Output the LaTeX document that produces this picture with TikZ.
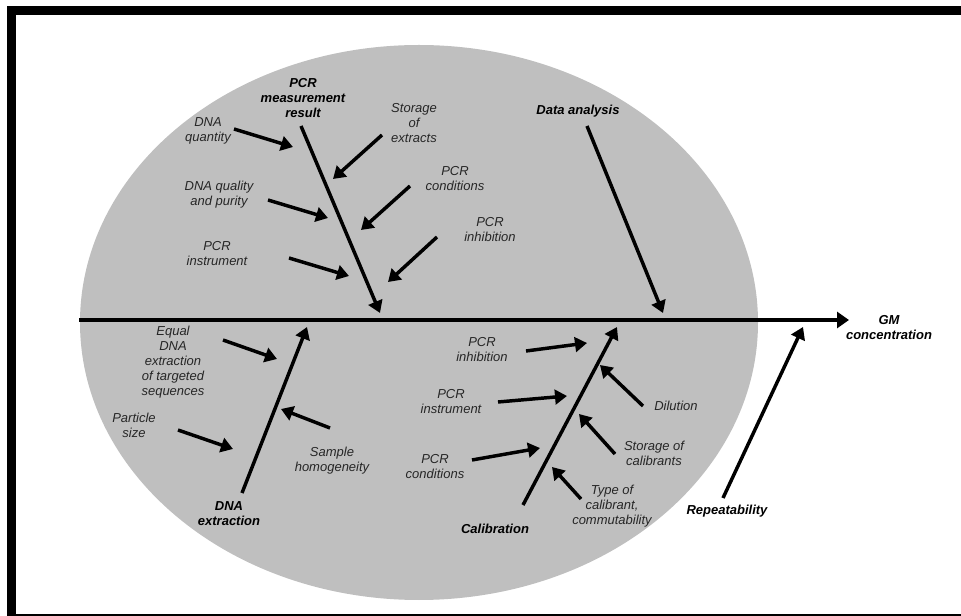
\documentclass[tikz,border=0pt]{standalone}
\usepackage{fontspec}
\setmainfont{Liberation Sans}
\usetikzlibrary{arrows.meta}
\newcommand\myarrow[3]{\coordinate (#1s) at #2; \coordinate (#1e) at #3; \draw[twig] (#1s) -- (#1e);}
\begin{document}
\begin{tikzpicture}[x=0.75pt,y=-0.75pt,
  lbl/.style={font=\fontsize{9.75}{11.25}\selectfont\itshape, align=center, inner sep=0pt, text=black!85},
  blbl/.style={font=\fontsize{9.75}{11.25}\selectfont\bfseries\itshape, align=center, inner sep=0pt, text=black},
  twig/.style={line width=2.6pt, -{Triangle[length=9pt,width=11pt]}},
]
\useasboundingbox (0,0) rectangle (961,616);
% background ellipse
\fill[black!25] (419,322.5) ellipse [x radius=339, y radius=277.5];
% frame
\fill[black] (7,6) rectangle (961,15);
\fill[black] (7,6) rectangle (16,616);
\fill[black] (7,613.5) rectangle (961,616);

% labels
\node[blbl] (pcrm) at (303,98) {PCR\\measurement\\result};
\node[lbl] (dnaq) at (208,130.5) {DNA\\quantity};
\node[lbl] (stoext) at (414,123) {Storage\\of\\extracts};
\node[lbl] (dnaqp) at (219,194.5) {DNA quality\\and purity};
\node[lbl] (pcrcA) at (455,179) {PCR\\conditions};
\node[lbl] (pcriA) at (490,230) {PCR\\inhibition};
\node[lbl] (pcrinA) at (217,254) {PCR\\instrument};
\node[blbl] (data) at (578,111) {Data analysis};
\node[lbl] (equal) at (173,362) {Equal\\DNA\\extraction\\of targeted\\sequences};
\node[lbl] (part) at (134,425.5) {Particle\\size};
\node[lbl] (samp) at (332,460.5) {Sample\\homogeneity};
\node[blbl] (dnax) at (229,514) {DNA\\extraction};
\node[lbl] (pcriB) at (482,350) {PCR\\inhibition};
\node[lbl] (pcrinB) at (451,402) {PCR\\instrument};
\node[lbl] (pcrcB) at (435,467) {PCR\\conditions};
\node[lbl] (dil) at (676,406) {Dilution};
\node[lbl] (stocal) at (654,453) {Storage of\\calibrants};
\node[lbl] (typecal) at (612,506.5) {Type of\\calibrant,\\commutability};
\node[blbl] (cal) at (495,529) {Calibration};
\node[blbl] (rep) at (727,511) {Repeatability};
\node[blbl] (gm) at (889,327.5) {GM\\concentration};

% spine
\coordinate (spineL) at (79,320);
\coordinate (spineR) at (849,320);
\draw[line width=2.8pt, -{Triangle[length=9pt,width=12pt]}] (spineL) -- (spineR);

% upper-left bone
\myarrow{boneA}{(301,126)}{(380,313)}
\myarrow{aq}{(234,129)}{(293,147)}
\myarrow{aqp}{(268,200)}{(328,218)}
\myarrow{ain}{(289,258)}{(349,276)}
\myarrow{ase}{(382,135)}{(333,179)}
\myarrow{acn}{(410,186)}{(361,230)}
\myarrow{aih}{(437,237)}{(388,282)}
% data analysis
\myarrow{boneD}{(587,126)}{(663,313)}
% lower-left bone
\myarrow{boneB}{(242,493)}{(307,327)}
\myarrow{beq}{(223,340)}{(277,359)}
\myarrow{bps}{(178,430)}{(233,449)}
\myarrow{bsh}{(330,428)}{(281,409)}
% lower-right bone
\myarrow{boneC}{(523,505)}{(617,327)}
\myarrow{cih}{(526,351)}{(587,343)}
\myarrow{cin}{(498,402)}{(567,396)}
\myarrow{ccn}{(472,460)}{(540,448)}
\myarrow{cdl}{(643,406)}{(600,365)}
\myarrow{csc}{(615,454)}{(579,414)}
\myarrow{ctc}{(581,499)}{(552,467)}
% repeatability
\myarrow{boneR}{(723,498)}{(803,327)}
\end{tikzpicture}
\end{document}
